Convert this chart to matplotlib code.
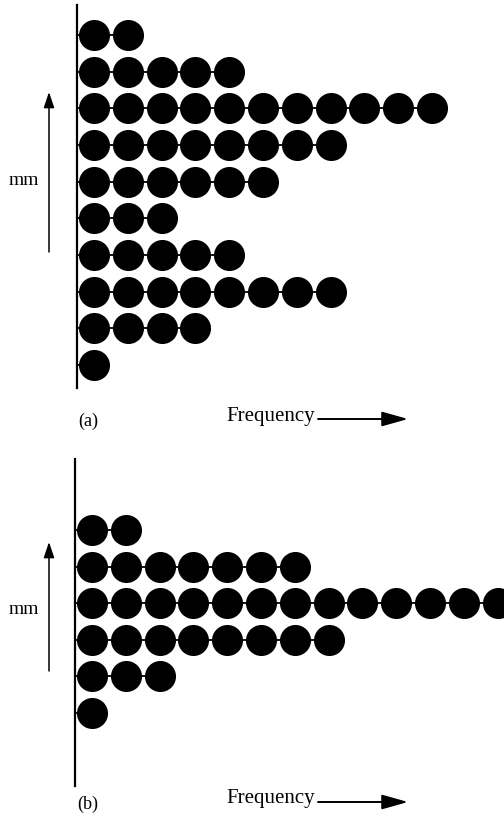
import matplotlib
matplotlib.use('Agg')
import matplotlib.pyplot as plt

# dot counts per mm class, listed top row first
counts_a = [2, 5, 11, 8, 6, 3, 5, 8, 4, 1]
counts_b = [2, 7, 13, 8, 3, 1]
panel_labels = ['(a)', '(b)']
axis_label = 'mm'
freq_label = 'Frequency'

W, H = 504, 817
plt.rcParams['font.family'] = ['Liberation Serif', 'DejaVu Serif']

fig = plt.figure(figsize=(W / 100, H / 100), dpi=100)

# overlay axes in pixel coords (top-left origin) for labels and arrows
overlay = fig.add_axes([0, 0, 1, 1])
overlay.set_xlim(0, W)
overlay.set_ylim(H, 0)
overlay.axis('off')


def dot_panel(counts, left, top, bottom, ylo, yhi):
    ax = fig.add_axes([left / W, 1 - bottom / H, 1 - left / W, (bottom - top) / H])
    n_rows = len(counts)
    for i, c in enumerate(counts):
        row = n_rows - 1 - i
        xs = list(range(1, c + 1))
        ax.plot([0.5, c], [row, row], color='black', lw=1.3, zorder=1)
        ax.scatter(xs, [row] * c, s=500, color='black', zorder=2, linewidths=0)
    ax.set_xlim(0.5, 0.5 + (W - left) / 33.8)
    ax.set_ylim(ylo, yhi)
    for side in ['top', 'right', 'bottom']:
        ax.spines[side].set_visible(False)
    ax.spines['left'].set_linewidth(1.6)
    ax.set_xticks([])
    ax.set_yticks([])
    ax.patch.set_alpha(0)
    return ax


def annotations(label, mm_y, arr_top, arr_bot, base_y):
    overlay.text(24, mm_y, axis_label, fontsize=14, ha='center', va='center')
    overlay.annotate('', xy=(49, arr_top), xytext=(49, arr_bot),
                     arrowprops=dict(arrowstyle='-|>,head_length=0.95,head_width=0.32',
                                     color='black', lw=1.1, shrinkA=0, shrinkB=0))
    overlay.text(88, base_y + 2, label, fontsize=13, ha='center', va='center')
    overlay.text(271, base_y - 3, freq_label, fontsize=15, ha='center', va='center')
    overlay.annotate('', xy=(408, base_y), xytext=(318, base_y),
                     arrowprops=dict(arrowstyle='-|>,head_length=1.6,head_width=0.45',
                                     color='black', lw=1.4, shrinkA=0, shrinkB=0))


dot_panel(counts_a, 77, 5, 388, -(388 - 365) / 36.67, 9 + 30 / 36.67)
dot_panel(counts_b, 75, 459, 786, -(786 - 713) / 36.6, 5 + (530 - 459) / 36.6)

annotations(panel_labels[0], 180, 92, 252, 419)
annotations(panel_labels[1], 610, 542, 671, 802)

fig.savefig('out.png', dpi=100)
